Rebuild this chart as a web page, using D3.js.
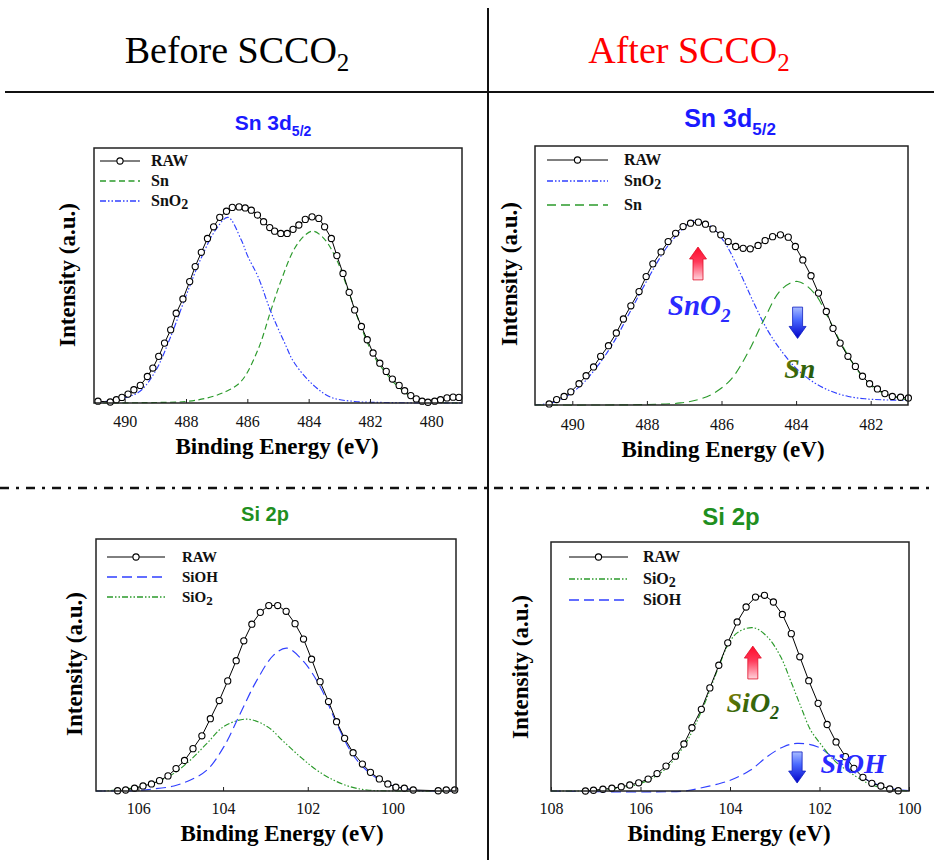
<!DOCTYPE html>
<html><head><meta charset="utf-8">
<script src="https://cdn.jsdelivr.net/npm/d3@7"></script>
<style>body{margin:0;background:#fff}</style>
</head><body><svg id="c" width="934" height="860"></svg>
<script>
// ---------------- DATA ([binding energy eV, intensity a.u.]) ----------------
const snBeforeRaw = [[490.87,0.7],[490.47,0.4],[490.27,1.3],[490.09,2.2],[489.89,3.5],[489.70,5.2],[489.49,6.9],[489.26,10.4],[489.08,13.7],[488.89,18.3],[488.70,23.5],[488.50,28.7],[488.32,35.2],[488.10,40.8],[487.88,47.6],[487.70,53.5],[487.50,59.1],[487.30,64.5],[487.10,69.1],[486.90,72.8],[486.68,75.2],[486.49,76.7],[486.27,76.9],[486.07,76.5],[485.87,75.6],[485.67,73.7],[485.47,71.1],[485.27,68.8],[485.11,67.4],[484.91,66.5],[484.70,66.5],[484.51,68.1],[484.32,69.8],[484.11,72.0],[483.89,73.0],[483.67,72.4],[483.48,69.1],[483.26,64.5],[483.08,57.8],[482.88,50.8],[482.68,43.4],[482.50,36.5],[482.28,30.0],[482.09,24.8],[481.90,19.6],[481.68,15.6],[481.47,12.4],[481.27,9.4],[481.05,6.9],[480.87,4.8],[480.67,2.9],[480.49,1.6],[480.30,0.7],[480.11,0.3],[479.89,0.7],[479.70,1.3],[479.49,2.0],[479.29,2.3],[479.10,2.2]];
const snBeforeSn = [[491,0],[489,0.2],[488,0.6],[487.3,2],[486.7,4.5],[486.2,8.5],[485.65,21],[485.24,36],[484.9,48],[484.46,60.6],[484.1,66],[483.86,67.4],[483.5,64.5],[483.08,56],[482.68,43],[482.28,29.5],[481.9,19],[481.47,11.5],[481.05,6],[480.67,2.5],[480.3,0.8],[479.8,0.2],[479,0]];
const snBeforeSnO2 = [[491,0.2],[490.5,0.8],[490,2],[489.5,4.6],[489,12.4],[488.5,26],[488,42],[487.5,57],[487,68.5],[486.63,72.8],[486.2,64],[485.98,57.4],[485.65,49.5],[485.24,36],[484.8,24],[484.46,15.6],[483.8,6.5],[483.26,2.2],[482.5,0.6],[481.5,0.2],[480,0],[479,0]];

const snAfterRaw = [[490.62,0.4],[490.42,2.1],[490.22,3.3],[490.04,5.1],[489.82,8.2],[489.63,11.3],[489.43,14.7],[489.24,18.8],[489.03,22.9],[488.82,27.8],[488.63,33.2],[488.43,38.3],[488.21,43.8],[488.02,49.6],[487.84,54.5],[487.62,59.1],[487.43,63.1],[487.23,66.3],[487.03,68.9],[486.83,70.2],[486.62,70.6],[486.43,69.8],[486.23,68.0],[486.02,65.7],[485.82,63.1],[485.62,61.2],[485.42,60.5],[485.23,60.3],[485.02,61.6],[484.83,63.5],[484.63,65.0],[484.42,65.7],[484.21,64.8],[484.02,61.2],[483.82,56.0],[483.60,49.9],[483.40,43.2],[483.19,36.1],[483.01,29.6],[482.82,23.9],[482.61,18.8],[482.41,14.9],[482.22,11.1],[482.03,8.2],[481.82,6.2],[481.62,4.4],[481.42,3.3],[481.20,3.0],[480.99,2.7]];
const snAfterSnO2 = [[491.0,0],[490.42,1.4],[489.8,7.2],[489.3,15.5],[488.9,24],[488.45,36],[488.0,48],[487.46,61],[487.0,68.5],[486.74,71.2],[486.4,70],[486.2,68],[485.84,61],[485.5,51],[485.12,39],[484.77,29],[484.4,21],[483.96,13.6],[483.5,8.5],[483.06,5.3],[482.6,3.3],[482.16,2.4],[481.7,2.0],[481.0,1.8]];
const snAfterSn = [[491,0],[489.2,0],[488,0.2],[487.1,0.8],[486.6,2.2],[486.2,4.6],[485.75,9.8],[485.3,20],[484.86,33],[484.4,44.5],[483.96,47.7],[483.5,43],[483.15,34],[482.8,24],[482.43,15],[482.07,8.5],[481.71,4.9],[481.26,2.7],[481.0,2.0]];

const siBeforeRaw = [[106.49,0.1],[106.30,0.4],[106.09,1.1],[105.89,2.0],[105.69,2.8],[105.50,4.1],[105.30,6.0],[105.11,8.9],[104.91,12.1],[104.71,16.8],[104.50,21.9],[104.30,28.7],[104.09,35.9],[103.89,43.7],[103.69,51.7],[103.51,59.6],[103.32,66.2],[103.12,70.9],[102.92,73.6],[102.71,73.6],[102.51,71.3],[102.30,66.4],[102.10,60.3],[101.91,52.3],[101.71,43.4],[101.51,35.5],[101.32,27.5],[101.13,20.9],[100.93,15.2],[100.71,10.7],[100.52,7.4],[100.31,4.8],[100.11,2.8],[99.92,1.5],[99.72,1.1],[99.51,0.4],[98.92,0.1],[98.73,0.4],[98.53,0.4]];
const siBeforeSiOH = [[107,0],[106,0.2],[105.71,0.7],[105.16,2],[104.77,4.4],[104.38,8.3],[103.98,17.6],[103.59,30.9],[103.2,44],[102.8,54],[102.49,56.7],[102.1,51.4],[101.71,41.5],[101.32,26.9],[100.93,14.3],[100.53,7],[100.14,3],[99.75,1.1],[99.28,0.1],[98.5,0]];
const siBeforeSiO2 = [[107,0],[106.73,0.1],[105.95,1.7],[105.55,3.7],[105.16,7],[104.77,12.3],[104.38,18.9],[103.98,25.6],[103.44,28.5],[102.96,25.6],[102.57,19.6],[102.18,13.6],[101.79,8.3],[101.4,4.4],[101,1.7],[100.6,0.4],[100,0],[98.5,0]];

const siAfterRaw = [[107.23,0],[107.05,0.3],[106.84,0.7],[106.64,1.1],[106.43,1.7],[106.24,2.4],[106.04,3.3],[105.83,4.8],[105.63,7.0],[105.43,10.0],[105.22,14.0],[105.03,18.9],[104.85,25.4],[104.64,32.8],[104.45,41.4],[104.25,50.5],[104.05,59.5],[103.84,67.9],[103.64,73.9],[103.43,77.9],[103.23,78.6],[103.03,75.9],[102.83,70.9],[102.63,63.2],[102.44,53.9],[102.24,44.3],[102.03,35.2],[101.83,26.7],[101.63,19.7],[101.42,13.8],[101.23,9.1],[101.03,5.5],[100.83,3.1],[100.63,2.0],[100.43,0.8],[100.24,0.1]];
const siAfterSiO2 = [[108,0],[107,0.2],[106.5,1.2],[106,3],[105.5,8],[105.03,18],[104.64,32],[104.25,50],[104.05,58.5],[103.84,63.5],[103.48,65.6],[103.17,62],[102.87,54],[102.65,44.5],[102.42,34],[102.2,24.5],[101.98,19],[101.68,12.4],[101.3,7.2],[100.93,3.2],[100.6,1.2],[100.26,0.3],[100,0]];
const siAfterSiOH = [[108,0],[105,0],[104.66,1.2],[104.21,3.1],[103.9,5],[103.54,8.4],[103.17,13.8],[102.8,17.8],[102.5,19.1],[102.05,17.8],[101.68,13.2],[101.3,8.4],[100.93,4.4],[100.6,1.8],[100.2,0.4],[100,0.2]];

const ticksSnBefore = [490,488,486,484,482,480];
const ticksSnAfter = [490,488,486,484,482];
const ticksSiBefore = [106,104,102,100];
const ticksSiAfter = [108,106,104,102,100];

// ---------------- STYLES / LAYOUT ----------------
const SERIF = "'Liberation Serif','Times New Roman',serif";
const SANS = "'Liberation Sans',Arial,sans-serif";
const GREEN = "#2b9a2b", BLUE = "#2f3fff";
const st = {
  sn:   {color:GREEN, dash:"6,3.5"},
  snL:  {color:GREEN, dash:"9,5"},
  snO2: {color:BLUE,  dash:"6,2,1.5,2,1.5,2"},
  siOH: {color:BLUE,  dash:"10,5"},
  siO2: {color:GREEN, dash:"6,2,1.5,2,1.5,2"}
};

const panels = [
  {frame:[94,148,462,403], domain:[491,479], ticks:ticksSnBefore, tickPad:13,
   raw:snBeforeRaw, fits:[[snBeforeSn,st.sn],[snBeforeSnO2,st.snO2]],
   title:{t:"Sn 3d", s:"5/2", color:"#1a1aff", size:21, x:273, y:130},
   legend:{x1:100,x2:140,tx:151,rows:[161,181,201],fs:16,
     items:[["RAW","",null],["Sn","",st.sn],["SnO","2",st.snO2]]},
   xlab:{x:277,y:454}, ylab:{x:75,y:275}},
  {frame:[535,146,908,405], domain:[491,481], ticks:ticksSnAfter, tickPad:14,
   raw:snAfterRaw, fits:[[snAfterSnO2,st.snO2],[snAfterSn,st.snL]],
   title:{t:"Sn 3d", s:"5/2", color:"#1a1aff", size:25, x:730, y:127},
   legend:{x1:547,x2:608,tx:624,rows:[160,181,205],fs:16,
     items:[["RAW","",null],["SnO","2",st.snO2],["Sn","",st.snL]]},
   xlab:{x:723,y:457}, ylab:{x:517,y:274}},
  {frame:[96,539,456,791], domain:[107,98.5], ticks:ticksSiBefore, tickPad:12,
   raw:siBeforeRaw, fits:[[siBeforeSiO2,st.siO2],[siBeforeSiOH,st.siOH]],
   title:{t:"Si 2p", s:"", color:"#1f8f1f", size:20, x:265, y:521},
   legend:{x1:107,x2:165,tx:182,rows:[557,577,597],fs:15,
     items:[["RAW","",null],["SiOH","",st.siOH],["SiO","2",st.siO2]]},
   xlab:{x:282,y:841}, ylab:{x:82,y:664}},
  {frame:[551,542,909,791], domain:[108,100], ticks:ticksSiAfter, tickPad:12,
   raw:siAfterRaw, fits:[[siAfterSiOH,st.siOH],[siAfterSiO2,st.siO2]],
   title:{t:"Si 2p", s:"", color:"#1f8f1f", size:24, x:731, y:525},
   legend:{x1:569,x2:628,tx:643,rows:[557,579,600],fs:16,
     items:[["RAW","",null],["SiO","2",st.siO2],["SiOH","",st.siOH]]},
   xlab:{x:729,y:841}, ylab:{x:528,y:667}}
];

// annotations in data coordinates (energy, intensity)
const annotations = [
  {panel:1, arrows:[{e:486.63, top:61, bot:48.3, dir:"up"},{e:483.96, top:37.8, bot:25.7, dir:"down"}],
   labels:[{e:486.6, i:34.7, t:"SnO", s:"2", fill:"#2a2aff", size:29, anchor:"middle"},
           {e:483.9, i:10.5, t:"Sn", s:"", fill:"url(#olive)", size:28, anchor:"middle"}]},
  {panel:3, arrows:[{e:103.49, top:58.2, bot:45, dir:"up"},{e:102.5, top:15.7, bot:3.2, dir:"down"}],
   labels:[{e:103.49, i:31.8, t:"SiO", s:"2", fill:"url(#olive)", size:28, anchor:"middle"},
           {e:101.98, i:7.1, t:"SiOH", s:"", fill:"#2a2aff", size:28, anchor:"start"}]}
];

// ---------------- DRAW ----------------
const svg = d3.select("#c");
const defs = svg.append("defs");
function grad(id, stops, x2, y2){
  const g = defs.append("linearGradient").attr("id",id).attr("x1",0).attr("y1",0).attr("x2",x2).attr("y2",y2);
  stops.forEach(s=>g.append("stop").attr("offset",s[0]).attr("stop-color",s[1]));
}
grad("redA", [[0,"#ff0a2a"],[0.45,"#ff3a5a"],[1,"#ffd4dc"]], 0, 1);
grad("blueA", [[0,"#a8bcff"],[0.4,"#4a6aff"],[1,"#0000c8"]], 0, 1);
grad("olive", [[0,"#9a8400"],[0.4,"#3f6a0a"],[1,"#17520f"]], 1, 1);

svg.append("rect").attr("width",934).attr("height",860).attr("fill","#fff");

// separators
svg.append("line").attr("x1",5).attr("x2",934).attr("y1",92).attr("y2",92).attr("stroke","#111").attr("stroke-width",2.2);
svg.append("line").attr("x1",0).attr("x2",934).attr("y1",488).attr("y2",488).attr("stroke","#111").attr("stroke-width",2.5).attr("stroke-dasharray","9,7,3,7");
svg.append("line").attr("x1",488).attr("x2",488).attr("y1",8).attr("y2",860).attr("stroke","#111").attr("stroke-width",2);

// text with optional subscript
function subText(sel, x, y, t, s, size, subSize, dy, anchor){
  const tx = sel.append("text").attr("x",x).attr("y",y).attr("text-anchor",anchor||"middle");
  tx.append("tspan").text(t);
  if (s) tx.append("tspan").attr("dy",dy).attr("font-size",subSize).text(s);
  return tx;
}
subText(svg,237,63,"Before SCCO","2",38,25,8).attr("font-family",SERIF).attr("font-size",38).attr("fill","#000");
subText(svg,689,63,"After SCCO","2",38,25,8).attr("font-family",SERIF).attr("font-size",38).attr("fill","#ff0000");

panels.forEach((p) => {
  const [l,t,r,b] = p.frame;
  const x = d3.scaleLinear().domain(p.domain).range([l,r]);
  const y = d3.scaleLinear().domain([0,100]).range([b,t]);
  p.x = x; p.y = y;
  const g = svg.append("g");

  // title
  subText(g, p.title.x, p.title.y, p.title.t, p.title.s, p.title.size, Math.round(p.title.size*0.68), p.title.size*0.3)
    .attr("font-family",SANS).attr("font-weight","bold").attr("font-size",p.title.size).attr("fill",p.title.color);

  // fitted components
  const lineGen = d3.line().x(d=>x(d[0])).y(d=>y(d[1])).curve(d3.curveCatmullRom.alpha(0.5));
  p.fits.forEach(([data, s]) => {
    g.append("path").datum(data).attr("d",lineGen).attr("fill","none")
      .attr("stroke",s.color).attr("stroke-width",1.15).attr("stroke-dasharray",s.dash);
  });

  // raw data
  const rawLine = d3.line().x(d=>x(d[0])).y(d=>y(d[1]));
  g.append("path").datum(p.raw).attr("d",rawLine).attr("fill","none").attr("stroke","#000").attr("stroke-width",1);
  g.selectAll("circle.raw").data(p.raw).join("circle").attr("class","raw")
    .attr("cx",d=>x(d[0])).attr("cy",d=>y(d[1])).attr("r",3.1)
    .attr("fill","#fff").attr("stroke","#000").attr("stroke-width",1.1);

  // frame
  g.append("rect").attr("x",l).attr("y",t).attr("width",r-l).attr("height",b-t)
    .attr("fill","none").attr("stroke","#222").attr("stroke-width",1.5);

  // x axis
  const ax = g.append("g").attr("transform",`translate(0,${b})`)
    .call(d3.axisBottom(x).tickValues(p.ticks).tickFormat(d3.format("d")).tickSizeInner(-4).tickSizeOuter(0).tickPadding(p.tickPad));
  ax.select(".domain").remove();
  ax.selectAll("line").attr("stroke","#222");
  ax.selectAll("text").attr("font-family",SERIF).attr("font-size",16).attr("fill","#111");

  // axis labels
  g.append("text").attr("x",p.xlab.x).attr("y",p.xlab.y).attr("text-anchor","middle")
    .attr("font-family",SERIF).attr("font-weight","bold").attr("font-size",23).attr("fill","#000")
    .text("Binding Energy (eV)");
  g.append("text").attr("transform",`translate(${p.ylab.x},${p.ylab.y}) rotate(-90)`).attr("text-anchor","middle")
    .attr("font-family",SERIF).attr("font-weight","bold").attr("font-size",23).attr("fill","#000")
    .text("Intensity (a.u.)");

  // legend
  const L = p.legend;
  L.items.forEach((it, k) => {
    const yy = L.rows[k];
    if (!it[2]) {
      g.append("line").attr("x1",L.x1).attr("x2",L.x2).attr("y1",yy).attr("y2",yy).attr("stroke","#000").attr("stroke-width",1);
      g.append("circle").attr("cx",(L.x1+L.x2)/2).attr("cy",yy).attr("r",3.1).attr("fill","#fff").attr("stroke","#000").attr("stroke-width",1.1);
    } else {
      g.append("line").attr("x1",L.x1).attr("x2",L.x2).attr("y1",yy).attr("y2",yy)
        .attr("stroke",it[2].color).attr("stroke-width",1.3).attr("stroke-dasharray",it[2].dash);
    }
    subText(g, L.tx, yy+5, it[0], it[1], L.fs, L.fs-2, 3, "start")
      .attr("font-family",SERIF).attr("font-weight","bold").attr("font-size",L.fs).attr("fill","#111");
  });
});

// annotations
function arrowPath(cx, y1, y2, dir){
  const hw=8.5, sw=5, hh=12;
  if (dir==="up") return `M${cx},${y1}L${cx+hw},${y1+hh}L${cx+sw},${y1+hh}L${cx+sw},${y2}L${cx-sw},${y2}L${cx-sw},${y1+hh}L${cx-hw},${y1+hh}Z`;
  return `M${cx},${y2}L${cx+hw},${y2-hh}L${cx+sw},${y2-hh}L${cx+sw},${y1}L${cx-sw},${y1}L${cx-sw},${y2-hh}L${cx-hw},${y2-hh}Z`;
}
annotations.forEach(a => {
  const p = panels[a.panel];
  a.arrows.forEach(ar => {
    svg.append("path").attr("d",arrowPath(p.x(ar.e), p.y(ar.top), p.y(ar.bot), ar.dir))
      .attr("fill", ar.dir==="up" ? "url(#redA)" : "url(#blueA)")
      .attr("stroke", ar.dir==="up" ? "#e0102a" : "#1020c0").attr("stroke-width",0.8);
  });
  a.labels.forEach(lb => {
    subText(svg, p.x(lb.e), p.y(lb.i), lb.t, lb.s, lb.size, Math.round(lb.size*0.65), lb.size*0.25, lb.anchor)
      .attr("font-family",SERIF).attr("font-style","italic").attr("font-weight","bold")
      .attr("font-size",lb.size).attr("fill",lb.fill);
  });
});
</script></body></html>
